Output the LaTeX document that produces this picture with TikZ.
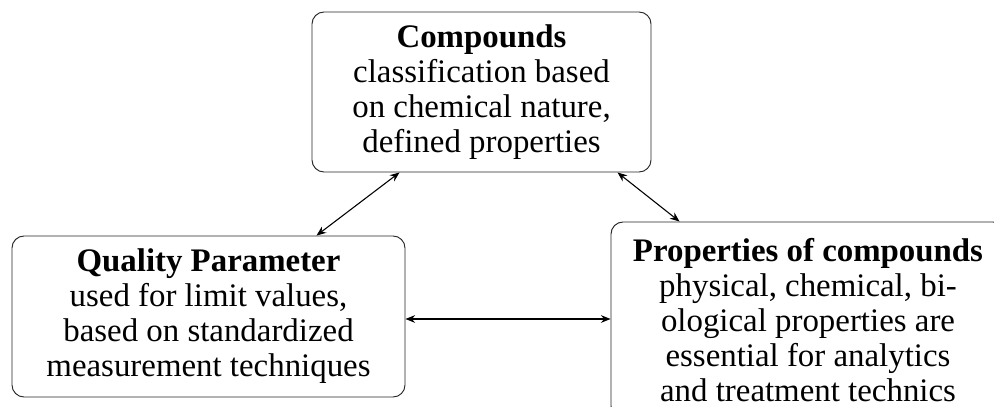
\documentclass[tikz,border=0pt]{standalone}
\usepackage{fontspec}
\setmainfont{Liberation Serif}
\usetikzlibrary{calc,arrows.meta}
\begin{document}
\begin{tikzpicture}[x=0.41667pt, y=-0.41667pt,
  box/.style={draw=black!85, rounded corners=5pt, align=center, inner sep=0pt,
    font=\fontsize{13.7}{14.6}\selectfont},
  link/.style={{Stealth[length=4pt,width=3.2pt]}-{Stealth[length=4pt,width=3.2pt]}, line width=0.45pt}]
\useasboundingbox (0,0) rectangle (994,407);
\clip (0,0) rectangle (994,407);

% three boxes
\node[box, minimum width=339*0.41667pt, minimum height=160*0.41667pt] (top) at (481.5,92)
  {\textbf{Compounds}\\ classification based\\ on chemical nature,\\ defined properties};
\node[box, minimum width=393*0.41667pt, minimum height=161*0.41667pt] (left) at (208.5,316.5)
  {\textbf{Quality Parameter}\\ used for limit values,\\ based on standardized\\ measurement techniques};
\node[box, minimum width=394*0.41667pt, minimum height=196*0.41667pt] (right) at (808,320)
  {\textbf{Properties of compounds}\\ physical, chemical, bi-\\ ological properties are\\ essential for analytics\\ and treatment technics};

% two-way links
\coordinate (hl) at ($(left.east)+(0,2.5)$);
\draw[link] ($(top.south west)+(88,0)$) -- ($(left.north west)+(305,0)$);
\draw[link] ($(top.south east)+(-34,0)$) -- ($(right.north west)+(69,0)$);
\draw[link] (hl) -- (hl -| right.west);
\end{tikzpicture}
\end{document}
